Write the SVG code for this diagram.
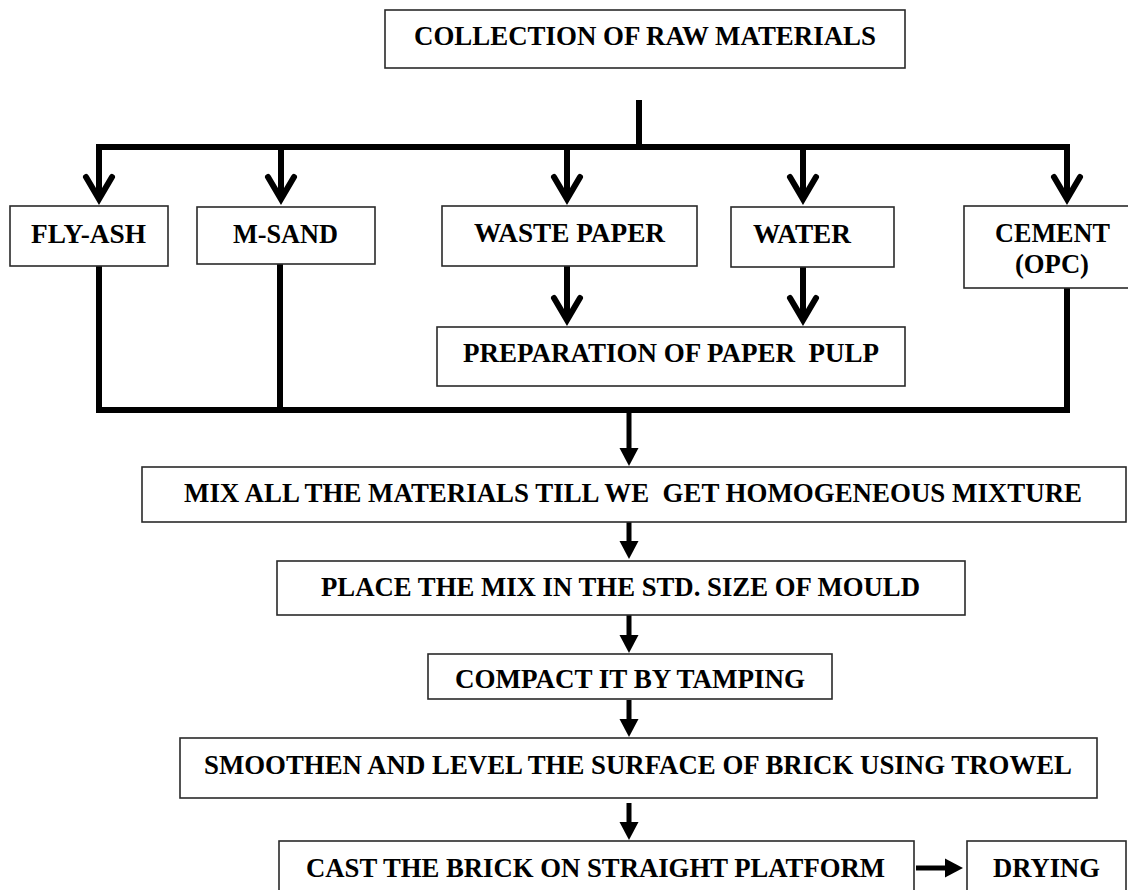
<svg xmlns="http://www.w3.org/2000/svg" width="1128" height="890" viewBox="0 0 1128 890">
<style>
  .box { fill: #ffffff; stroke: #2a2a2a; stroke-width: 1.6; }
  .t { font-family: 'Liberation Serif', 'Times New Roman', serif; font-weight: bold; font-size: 27px; fill: #000; white-space: pre; }
  .thick { fill: none; stroke: #000; stroke-width: 6; stroke-linejoin: miter; }
  .shaft { fill: none; stroke: #000; stroke-width: 5; }
</style>
<defs>
  <marker id="chev" markerUnits="userSpaceOnUse" viewBox="-30 -20 40 40" refX="0" refY="0" markerWidth="40" markerHeight="40" orient="auto" overflow="visible">
    <path d="M-22,-13 L0,0 L-22,13" fill="none" stroke="#000" stroke-width="6" stroke-linecap="round" stroke-linejoin="miter"/>
  </marker>
  <marker id="head" markerUnits="userSpaceOnUse" viewBox="0 -10 20 20" refX="0" refY="0" markerWidth="20" markerHeight="20" orient="auto" overflow="visible">
    <path d="M0,-9.5 L18,0 L0,9.5 z" fill="#000"/>
  </marker>
</defs>
<rect width="1128" height="890" fill="#ffffff"/>

<g id="connectors">
  <line class="thick" x1="639" y1="100" x2="639" y2="147"/>
  <path class="thick" d="M99,147 H1067 V199" marker-end="url(#chev)"/>
  <line class="thick" x1="99" y1="144" x2="99" y2="199" marker-end="url(#chev)"/>
  <line class="thick" x1="281" y1="147" x2="281" y2="199" marker-end="url(#chev)"/>
  <line class="thick" x1="567" y1="147" x2="567" y2="199" marker-end="url(#chev)"/>
  <line class="thick" x1="803" y1="147" x2="803" y2="199" marker-end="url(#chev)"/>
  <line class="thick" x1="567" y1="266" x2="567" y2="320" marker-end="url(#chev)"/>
  <line class="thick" x1="803" y1="267" x2="803" y2="320" marker-end="url(#chev)"/>
  <path class="thick" d="M99,266 V410 H1067 V288"/>
  <line class="thick" x1="280" y1="264" x2="280" y2="410"/>
  <line class="shaft" x1="629" y1="410" x2="629" y2="448" marker-end="url(#head)"/>
  <line class="shaft" x1="629" y1="522" x2="629" y2="541" marker-end="url(#head)"/>
  <line class="shaft" x1="629" y1="615" x2="629" y2="635" marker-end="url(#head)"/>
  <line class="shaft" x1="629" y1="700" x2="629" y2="719" marker-end="url(#head)"/>
  <line class="shaft" x1="629" y1="803" x2="629" y2="822" marker-end="url(#head)"/>
  <line class="shaft" x1="916" y1="868" x2="945" y2="868" marker-end="url(#head)"/>
</g>

<g id="collection">
  <rect class="box" x="385" y="10" width="520" height="58"/>
  <text class="t" x="414" y="45" textLength="462" lengthAdjust="spacingAndGlyphs">COLLECTION OF RAW MATERIALS</text>
</g>
<g id="flyash">
  <rect class="box" x="10" y="206" width="158" height="60"/>
  <text class="t" x="31" y="243" textLength="115" lengthAdjust="spacingAndGlyphs">FLY-ASH</text>
</g>
<g id="msand">
  <rect class="box" x="197" y="207" width="178" height="57"/>
  <text class="t" x="233" y="243" textLength="105" lengthAdjust="spacingAndGlyphs">M-SAND</text>
</g>
<g id="wastepaper">
  <rect class="box" x="442" y="206" width="255" height="60"/>
  <text class="t" x="474" y="242" textLength="191" lengthAdjust="spacingAndGlyphs">WASTE PAPER</text>
</g>
<g id="water">
  <rect class="box" x="731" y="207" width="163" height="60"/>
  <text class="t" x="753" y="243" textLength="98" lengthAdjust="spacingAndGlyphs">WATER</text>
</g>
<g id="cement">
  <rect class="box" x="964" y="206" width="170" height="82"/>
  <text class="t" x="995" y="242" textLength="115" lengthAdjust="spacingAndGlyphs">CEMENT</text>
  <text class="t" x="1015" y="273" textLength="74" lengthAdjust="spacingAndGlyphs">(OPC)</text>
</g>
<g id="pulp">
  <rect class="box" x="437" y="327" width="468" height="59"/>
  <text class="t" x="463" y="362" textLength="416" lengthAdjust="spacingAndGlyphs">PREPARATION OF PAPER  PULP</text>
</g>
<g id="mix">
  <rect class="box" x="142" y="467" width="984" height="55"/>
  <text class="t" x="184" y="502" textLength="898" lengthAdjust="spacingAndGlyphs">MIX ALL THE MATERIALS TILL WE  GET HOMOGENEOUS MIXTURE</text>
</g>
<g id="place">
  <rect class="box" x="277" y="561" width="688" height="54"/>
  <text class="t" x="321" y="596" textLength="599" lengthAdjust="spacingAndGlyphs">PLACE THE MIX IN THE STD. SIZE OF MOULD</text>
</g>
<g id="compact">
  <rect class="box" x="428" y="654" width="404" height="45"/>
  <text class="t" x="455" y="688" textLength="350" lengthAdjust="spacingAndGlyphs">COMPACT IT BY TAMPING</text>
</g>
<g id="smoothen">
  <rect class="box" x="180" y="738" width="917" height="60"/>
  <text class="t" x="204" y="774" textLength="868" lengthAdjust="spacingAndGlyphs">SMOOTHEN AND LEVEL THE SURFACE OF BRICK USING TROWEL</text>
</g>
<g id="cast">
  <rect class="box" x="279" y="841" width="635" height="60"/>
  <text class="t" x="306" y="877" textLength="579" lengthAdjust="spacingAndGlyphs">CAST THE BRICK ON STRAIGHT PLATFORM</text>
</g>
<g id="drying">
  <rect class="box" x="967" y="841" width="159" height="60"/>
  <text class="t" x="993" y="877" textLength="107" lengthAdjust="spacingAndGlyphs">DRYING</text>
</g>
</svg>
